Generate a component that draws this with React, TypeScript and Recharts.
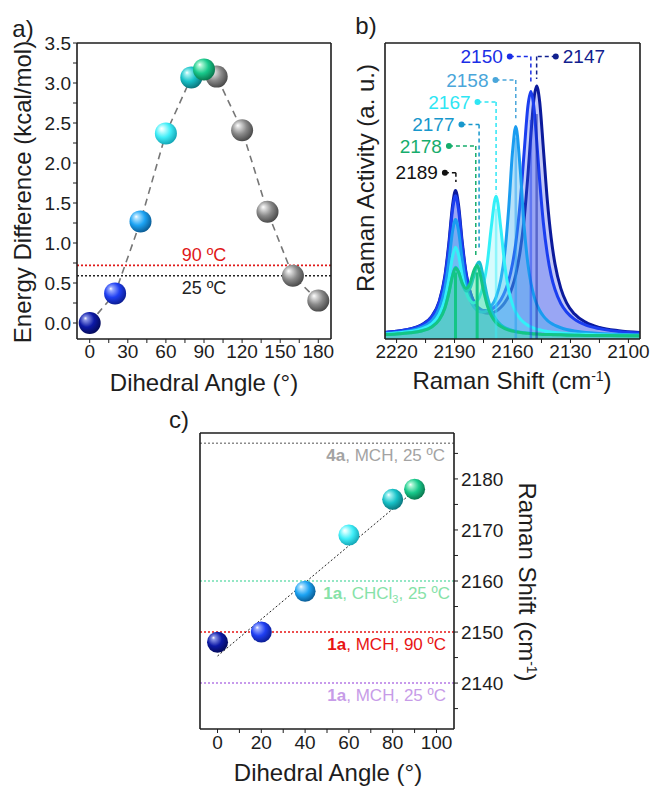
import {
  ComposedChart,
  Line,
  Area,
  Scatter,
  XAxis,
  YAxis,
  ReferenceLine,
  ReferenceDot,
} from "recharts";

const FONT = '"Liberation Sans", Arial, Helvetica, sans-serif';
const INK = "#1d1d1d";
const TICK = { fill: INK, fontSize: 19, fontFamily: FONT };
const FRAME = { stroke: INK, strokeWidth: 1.6 };

// ---------- a) energy difference vs dihedral angle
const anglesA = [0, 20, 40, 60, 80, 90, 100, 120, 140, 160, 180];
const energyA = [0.0, 0.37, 1.27, 2.37, 3.07, 3.17, 3.08, 2.41, 1.39, 0.59, 0.28];
const ballA = ["navy", "blue", "sky", "cyan", "teal", "green", "gray", "gray", "gray", "gray", "gray"];
const tempLevelA = [0.72, 0.59];
const tempLabelA = ["90 ºC", "25 ºC"];
const xTicksA = [0, 15, 30, 45, 60, 75, 90, 105, 120, 135, 150, 165, 180];
const yTicksA = [0, 0.25, 0.5, 0.75, 1, 1.25, 1.5, 1.75, 2, 2.25, 2.5, 2.75, 3, 3.25, 3.5];

// ---------- b) simulated Raman spectra (read off the picture)
const shiftB = [
  2094, 2105, 2115, 2122, 2128, 2132, 2135, 2138, 2140, 2142, 2144, 2146, 2147.5, 2149, 2150.5,
  2152, 2154, 2156, 2158.3, 2160, 2162, 2164, 2166, 2168.5, 2171, 2173, 2175, 2177.3, 2178.3,
  2180, 2182, 2184, 2186, 2188, 2189.5, 2191, 2193, 2195, 2198, 2202, 2207, 2213, 2220, 2226,
];
const navyB = [
  2.2, 2.8, 3.9, 5.6, 8.5, 12.2, 17.1, 25.3, 34.2, 47.0, 64.1, 80.5, 85.5, 80.6, 68.8, 55.5, 40.4,
  29.8, 21.8, 17.8, 14.5, 12.3, 10.7, 9.4, 8.8, 8.7, 9.0, 10.0, 10.7, 12.5, 16.1, 22.2, 32.6, 45.6,
  50.2, 45.3, 32.0, 21.3, 12.6, 7.5, 4.8, 3.4, 2.6, 2.2,
];
const blueB = [
  2.0, 2.5, 3.5, 4.7, 6.7, 9.1, 12.0, 16.7, 21.5, 28.7, 39.1, 54.0, 67.1, 78.7, 83.6, 78.8, 62.9,
  46.3, 32.4, 25.4, 19.7, 15.9, 13.3, 11.2, 10.0, 9.6, 9.6, 10.4, 11.0, 12.6, 16.0, 21.8, 31.6,
  44.0, 48.4, 43.8, 30.9, 20.7, 12.3, 7.3, 4.7, 3.4, 2.6, 2.2,
];
const skyB = [
  1.4, 1.6, 1.9, 2.2, 2.7, 3.2, 3.8, 4.6, 5.3, 6.3, 7.7, 9.7, 11.8, 14.8, 19.0, 25.2, 38.2, 57.2,
  71.8, 63.1, 43.8, 29.0, 20.2, 14.1, 11.0, 9.6, 9.1, 9.3, 9.7, 10.8, 13.5, 18.3, 26.5, 36.8, 40.4,
  36.5, 25.9, 17.2, 10.2, 6.1, 4.0, 2.8, 2.2, 1.9,
];
const cyanB = [
  1.2, 1.3, 1.4, 1.6, 1.7, 1.9, 2.0, 2.2, 2.4, 2.5, 2.8, 3.1, 3.3, 3.7, 4.1, 4.6, 5.5, 6.8, 9.1,
  11.7, 16.6, 24.9, 37.1, 48.2, 37.7, 25.9, 18.4, 13.9, 12.9, 12.2, 13.0, 15.8, 21.3, 28.5, 31.0,
  28.0, 19.9, 13.5, 8.2, 5.0, 3.4, 2.5, 2.0, 1.7,
];
const tealB = [
  1.1, 1.2, 1.2, 1.2, 1.3, 1.4, 1.4, 1.5, 1.5, 1.5, 1.6, 1.7, 1.7, 1.8, 1.9, 2.0, 2.1, 2.3, 2.6,
  2.9, 3.3, 3.9, 4.8, 6.6, 9.8, 14.2, 20.6, 26.0, 25.3, 21.3, 17.2, 16.2, 18.5, 22.8, 24.2, 21.6,
  15.5, 10.6, 6.5, 4.1, 2.8, 2.1, 1.7, 1.5,
];
const greenB = [
  1.1, 1.1, 1.2, 1.2, 1.3, 1.3, 1.4, 1.4, 1.5, 1.5, 1.5, 1.6, 1.7, 1.7, 1.8, 1.9, 2.0, 2.2, 2.4,
  2.7, 3.0, 3.5, 4.2, 5.5, 7.9, 11.2, 16.4, 23.4, 24.8, 23.1, 18.8, 17.1, 18.9, 22.7, 23.9, 21.4,
  15.3, 10.4, 6.4, 4.0, 2.7, 2.1, 1.7, 1.5,
];
const seriesB = ["navy", "blue", "sky", "cyan", "teal", "green"];
const stickXB = [2147.5, 2150.5, 2158.3, 2168.5, 2178.3, 2189.5];
const stickTopB = [76, 74, 68, 44, 22.5, 22.5];
const stickKeyB = ["navy", "blue", "sky", "cyan", "green", "green"];
const peakLabelB = ["2150", "2147", "2158", "2167", "2177", "2178", "2189"];
const peakXB = [2150.5, 2147.5, 2158.3, 2168.5, 2177.3, 2179.0, 2189.3];
const stemEndB = [86.4, 87.8, 74.6, 49.2, 30.5, 27.6, 53.0];
const labelYB = [95.4, 95.4, 87.5, 80.1, 72.5, 65.2, 56.2];
const dotXB = [2161.4, 2137.6, 2168.8, 2178.1, 2186.4, 2192.9, 2195.0];
const labelKeyB = ["blue", "navy", "sky", "cyan", "teal", "green", "black"];
const xTicksB = [2100, 2115, 2130, 2145, 2160, 2175, 2190, 2205, 2220];

// ---------- c) Raman shift vs dihedral angle
const anglesC = [0, 20, 40, 60, 80, 90];
const shiftC = [2148, 2150, 2158, 2169, 2176, 2178];
const ballC = ["navy", "blue", "sky", "cyan", "teal", "green"];
const fitAngleC = [0, 88];
const fitShiftC = [2145.3, 2177];
const refShiftC = [2187, 2160, 2150, 2140];
const refSampleC = ["4a", "1a", "1a", "1a"];
const refSolventC = ["MCH", "CHCl3", "MCH", "MCH"];
const refTempC = ["25 ºC", "25 ºC", "90 ºC", "25 ºC"];
const xTicksC = [0, 10, 20, 30, 40, 50, 60, 70, 80, 90, 100];
const yTicksC = [2135, 2140, 2145, 2150, 2155, 2160, 2165, 2170, 2175, 2180, 2185];

// ---------- styling
const SPHERE: Record<string, [string, string, string]> = {
  navy: ["#8a94e6", "#0c19a6", "#040a58"],
  blue: ["#9aaaff", "#1f3ff2", "#0b1c90"],
  sky: ["#b0e2ff", "#1ca3f3", "#0a5a92"],
  cyan: ["#d4ffff", "#40eef8", "#12a4b4"],
  teal: ["#a4f2f2", "#17c2c8", "#0a737a"],
  green: ["#aaf6d4", "#18c98b", "#0a744c"],
  gray: ["#e0e0e0", "#8a8a8a", "#474747"],
};

const CURVE: Record<string, { line: string; fill: string; alpha: number }> = {
  navy: { line: "#0b1a9c", fill: "#3848e0", alpha: 0.3 },
  blue: { line: "#1b3ef0", fill: "#3858f0", alpha: 0.3 },
  sky: { line: "#1a9cf0", fill: "#40b0f0", alpha: 0.38 },
  cyan: { line: "#33f0f8", fill: "#60f0f8", alpha: 0.25 },
  teal: { line: "#18bfd0", fill: "#40d0e0", alpha: 0.18 },
  green: { line: "#14c585", fill: "#40e090", alpha: 0.35 },
};

const LABEL_B: Record<string, string> = {
  navy: "#11208e",
  blue: "#1a2ee6",
  sky: "#4aa6da",
  cyan: "#2ee6f4",
  teal: "#1797cc",
  green: "#16ad6c",
  black: "#111111",
};

const REF_C = [
  { line: "#8c8c8c", text: "#a3a3a3", inset: 9 },
  { line: "#72e0b2", text: "#86e2a8", inset: 4 },
  { line: "#e81414", text: "#e81414", inset: 8 },
  { line: "#b57ae6", text: "#c79ce8", inset: 8 },
];

function sphereDefs(prefix: string) {
  return (
    <defs>
      {Object.entries(SPHERE).map(([k, [hi, mid, lo]]) => (
        <radialGradient key={k} id={`${prefix}-${k}`} cx="42%" cy="40%" r="62%" fx="30%" fy="28%">
          <stop offset="0%" stopColor="#ffffff" />
          <stop offset="14%" stopColor={hi} />
          <stop offset="55%" stopColor={mid} />
          <stop offset="100%" stopColor={lo} />
        </radialGradient>
      ))}
    </defs>
  );
}

function sphere(prefix: string, r: number) {
  return (props: any) => {
    const { cx, cy, payload } = props;
    if (cx == null || cy == null) return <g />;
    return <circle cx={cx} cy={cy} r={r} fill={`url(#${prefix}-${payload.ball})`} />;
  };
}

function frameAxes() {
  return [
    <XAxis
      key="ft"
      xAxisId="top"
      orientation="top"
      type="number"
      domain={[0, 1]}
      mirror
      tick={false}
      tickLine={false}
      axisLine={FRAME}
    />,
  ];
}

function PanelA() {
  const pts = anglesA.map((x, i) => ({ x, y: energyA[i], ball: ballA[i] }));
  const grayPts = pts.filter((p) => p.ball === "gray");
  const colorPts = pts.filter((p) => p.ball !== "gray");
  return (
    <ComposedChart width={345} height={410} margin={{ top: 43, right: 14, bottom: 41, left: 17 }}>
      {sphereDefs("a")}
      <XAxis
        dataKey="x"
        type="number"
        domain={[-10, 190]}
        ticks={xTicksA}
        interval={0}
        allowDataOverflow
        tickFormatter={(v: number) => (v % 30 === 0 ? String(v) : "")}
        tick={TICK}
        tickSize={4}
        tickLine={{ stroke: INK }}
        axisLine={FRAME}
        height={30}
      />
      <YAxis
        dataKey="y"
        type="number"
        domain={[-0.2, 3.5]}
        ticks={yTicksA}
        interval={0}
        allowDataOverflow
        tickFormatter={(v: number) => (Math.round(v * 100) % 50 === 0 ? v.toFixed(1) : "")}
        tick={TICK}
        tickSize={4}
        tickLine={{ stroke: INK }}
        axisLine={FRAME}
        width={60}
      />
      {frameAxes()}
      <YAxis
        yAxisId="right"
        orientation="right"
        type="number"
        domain={[0, 1]}
        mirror
        tick={false}
        tickLine={false}
        axisLine={FRAME}
      />
      <ReferenceLine
        y={tempLevelA[0]}
        stroke="#e01818"
        strokeDasharray="2 2"
        strokeWidth={1.6}
        label={{ value: tempLabelA[0], position: "top", offset: 4, fill: "#e01818", fontSize: 18, fontFamily: FONT }}
      />
      <ReferenceLine
        y={tempLevelA[1]}
        stroke="#222"
        strokeDasharray="2 2"
        strokeWidth={1.6}
        label={{ value: tempLabelA[1], position: "bottom", offset: 5, fill: "#222", fontSize: 18, fontFamily: FONT }}
      />
      <Line
        data={pts}
        dataKey="y"
        type="linear"
        stroke="#767676"
        strokeDasharray="7 5"
        strokeWidth={1.6}
        dot={false}
        activeDot={false}
        isAnimationActive={false}
      />
      <Scatter data={grayPts} dataKey="y" shape={sphere("a", 11)} isAnimationActive={false} />
      <Scatter data={colorPts} dataKey="y" shape={sphere("a", 11)} isAnimationActive={false} />
    </ComposedChart>
  );
}

function PanelB() {
  const rows = shiftB.map((w, i) => ({
    w,
    navy: navyB[i],
    blue: blueB[i],
    sky: skyB[i],
    cyan: cyanB[i],
    teal: tealB[i],
    green: greenB[i],
  }));
  return (
    <ComposedChart width={309} height={410} data={rows} margin={{ top: 43, right: 14, bottom: 41, left: 40 }}>
      <XAxis
        dataKey="w"
        type="number"
        reversed
        domain={[2094, 2226]}
        ticks={xTicksB}
        interval={0}
        allowDataOverflow
        tickFormatter={(v: number) => (v % 30 === 0 ? String(v) : "")}
        tick={TICK}
        tickSize={4}
        tickLine={{ stroke: INK }}
        axisLine={FRAME}
        height={30}
      />
      <YAxis type="number" domain={[0, 100]} mirror tick={false} tickLine={false} axisLine={FRAME} />
      {frameAxes()}
      <YAxis
        yAxisId="right"
        orientation="right"
        type="number"
        domain={[0, 1]}
        mirror
        tick={false}
        tickLine={false}
        axisLine={FRAME}
      />
      {seriesB.map((k) => (
        <Area
          key={k}
          type="monotone"
          dataKey={k}
          stroke={CURVE[k].line}
          strokeWidth={3}
          fill={CURVE[k].fill}
          fillOpacity={CURVE[k].alpha}
          dot={false}
          activeDot={false}
          isAnimationActive={false}
        />
      ))}
      {stickXB.map((x, i) => (
        <ReferenceLine
          key={`s${i}`}
          segment={[
            { x, y: 0 },
            { x, y: stickTopB[i] },
          ]}
          stroke={CURVE[stickKeyB[i]].line}
          strokeOpacity={stickKeyB[i] === "green" ? 1 : 0.45}
          strokeWidth={stickKeyB[i] === "green" ? 3 : 2.5}
        />
      ))}
      {peakLabelB.map((t, i) => {
        const col = LABEL_B[labelKeyB[i]];
        return [
          <ReferenceLine
            key={`h${i}`}
            segment={[
              { x: dotXB[i], y: labelYB[i] },
              { x: peakXB[i], y: labelYB[i] },
            ]}
            stroke={col}
            strokeDasharray="4 3"
            strokeWidth={1.5}
          />,
          <ReferenceLine
            key={`v${i}`}
            segment={[
              { x: peakXB[i], y: labelYB[i] },
              { x: peakXB[i], y: stemEndB[i] },
            ]}
            stroke={col}
            strokeDasharray="4 3"
            strokeWidth={1.5}
          />,
          <ReferenceDot
            key={`d${i}`}
            x={dotXB[i]}
            y={labelYB[i]}
            r={3}
            fill={col}
            stroke="none"
            label={{
              value: t,
              position: t === "2147" ? "right" : "left",
              offset: 4,
              fill: col,
              fontSize: 19,
              fontFamily: FONT,
            }}
          />,
        ];
      })}
    </ComposedChart>
  );
}

function refTag(i: number) {
  return (props: any) => {
    const vb = props.viewBox;
    if (!vb) return null;
    const x = vb.x + vb.width - REF_C[i].inset;
    const y = vb.y + 18;
    const solv = refSolventC[i];
    return (
      <text x={x} y={y} textAnchor="end" fill={REF_C[i].text} fontSize={17} fontFamily={FONT}>
        <tspan fontWeight="bold">{refSampleC[i]}</tspan>
        <tspan>, </tspan>
        {solv === "CHCl3" ? (
          <>
            <tspan>CHCl</tspan>
            <tspan fontSize={11} dy={4}>
              3
            </tspan>
            <tspan dy={-4}>, </tspan>
          </>
        ) : (
          <tspan>{solv}, </tspan>
        )}
        <tspan>{refTempC[i]}</tspan>
      </text>
    );
  };
}

function PanelC() {
  const pts = anglesC.map((x, i) => ({ x, y: shiftC[i], ball: ballC[i] }));
  const fit = fitAngleC.map((x, i) => ({ x, y: fitShiftC[i] }));
  return (
    <ComposedChart width={420} height={387} margin={{ top: 33, right: 46, bottom: 28, left: 50 }}>
      {sphereDefs("c")}
      <XAxis
        dataKey="x"
        type="number"
        domain={[-8, 108]}
        ticks={xTicksC}
        interval={0}
        allowDataOverflow
        tickFormatter={(v: number) => (v % 20 === 0 ? String(v) : "")}
        tick={TICK}
        tickSize={4}
        tickMargin={3}
        tickLine={{ stroke: INK }}
        axisLine={FRAME}
        height={30}
      />
      <YAxis
        dataKey="y"
        orientation="right"
        type="number"
        domain={[2131, 2189]}
        ticks={yTicksC}
        interval={0}
        allowDataOverflow
        tickFormatter={(v: number) => (v % 10 === 0 ? String(v) : "")}
        tick={TICK}
        tickSize={4}
        tickMargin={3}
        tickLine={{ stroke: INK }}
        axisLine={FRAME}
        width={70}
      />
      {frameAxes()}
      <YAxis
        yAxisId="left"
        orientation="left"
        type="number"
        domain={[0, 1]}
        mirror
        tick={false}
        tickLine={false}
        axisLine={FRAME}
      />
      {refShiftC.map((y, i) => (
        <ReferenceLine
          key={`r${i}`}
          y={y}
          stroke={REF_C[i].line}
          strokeDasharray="2 2"
          strokeWidth={1.6}
          label={refTag(i)}
        />
      ))}
      <Line
        data={fit}
        dataKey="y"
        type="linear"
        stroke="#222"
        strokeDasharray="2 2"
        strokeWidth={1}
        dot={false}
        activeDot={false}
        isAnimationActive={false}
      />
      <Scatter data={pts} dataKey="y" shape={sphere("c", 10.5)} isAnimationActive={false} />
    </ComposedChart>
  );
}

const abs = (left: number, top: number, extra: any = {}) => ({
  position: "absolute" as const,
  left,
  top,
  transform: `translate(-50%, -50%)${extra.rotate ? ` rotate(${extra.rotate}deg)` : ""}`,
  whiteSpace: "nowrap" as const,
  lineHeight: 1,
  fontSize: extra.size ?? 24,
  color: INK,
});

export default function App() {
  return (
    <div
      style={{
        position: "absolute",
        left: 0,
        top: 0,
        width: 654,
        height: 787,
        background: "#fff",
        fontFamily: FONT,
        overflow: "hidden",
      }}
    >
      <div style={{ position: "absolute", left: 0, top: 0 }}>
        <PanelA />
      </div>
      <div style={{ position: "absolute", left: 345, top: 0 }}>
        <PanelB />
      </div>
      <div style={{ position: "absolute", left: 150, top: 400 }}>
        <PanelC />
      </div>

      <div style={abs(23, 29)}>a)</div>
      <div style={abs(366, 26)}>b)</div>
      <div style={abs(179, 420)}>c)</div>

      <div style={abs(23, 192, { rotate: -90 })}>Energy Difference (kcal/mol)</div>
      <div style={abs(204, 383)}>Dihedral Angle (°)</div>

      <div style={abs(366, 178, { rotate: -90 })}>Raman Activity (a. u.)</div>
      <div style={abs(512, 381)}>
        Raman Shift (cm<sup style={{ fontSize: 14, verticalAlign: 8 }}>-1</sup>)
      </div>

      <div style={abs(328, 773)}>Dihedral Angle (°)</div>
      <div style={abs(527, 582, { rotate: 90 })}>
        Raman Shift (cm<sup style={{ fontSize: 14, verticalAlign: 8 }}>-1</sup>)
      </div>
    </div>
  );
}
